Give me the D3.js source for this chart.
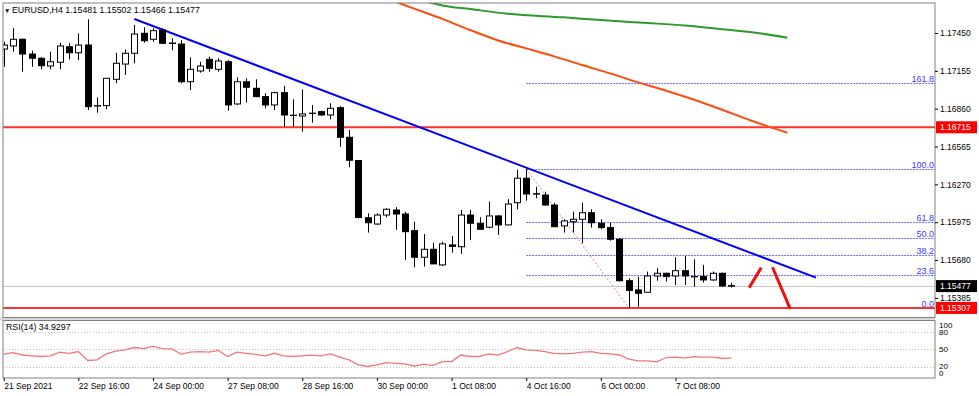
<!DOCTYPE html>
<html>
<head>
<meta charset="utf-8">
<script src="https://cdn.jsdelivr.net/npm/d3@7"></script>
<style>
  body { margin: 0; background: #fff; }
  svg text { font-family: "Liberation Sans", Arial, sans-serif; }
</style>
</head>
<body>
<div class="canvas"></div>
<script>
const width = 979;
const height = 396;

// H4 candles, 21 Sep 08:00 -> 8 Oct 08:00
const opens = [1.17325, 1.17349, 1.17401, 1.17286, 1.17253, 1.17193, 1.17222, 1.17343, 1.17296, 1.17356,
  1.16881, 1.16884, 1.17089, 1.17208, 1.17292, 1.17448, 1.17401, 1.17473, 1.17372, 1.17364,
  1.1707, 1.17154, 1.17245, 1.17167, 1.17226, 1.16897, 1.1707, 1.17019, 1.16954, 1.16889,
  1.16985, 1.16809, 1.16803, 1.16823, 1.16837, 1.16811, 1.16868, 1.16637, 1.16456, 1.1601,
  1.15961, 1.16031, 1.1607, 1.16039, 1.15909, 1.15702, 1.15764, 1.15642, 1.15798, 1.15784,
  1.16031, 1.15967, 1.15936, 1.16024, 1.15954, 1.16127, 1.16318, 1.16197, 1.16187, 1.16109,
  1.15946, 1.15979, 1.15998, 1.16049, 1.15967, 1.15933, 1.15842, 1.15519, 1.15447, 1.15429,
  1.15556, 1.15577, 1.15556, 1.15597, 1.15552, 1.15551, 1.15525, 1.15577, 1.15481];
const highs = [1.17382, 1.17487, 1.17407, 1.17312, 1.17261, 1.17304, 1.17374, 1.1737, 1.17448, 1.17557,
  1.16949, 1.17097, 1.17296, 1.17323, 1.17512, 1.17494, 1.17487, 1.17487, 1.17409, 1.17395,
  1.17261, 1.17226, 1.17265, 1.17253, 1.1724, 1.17105, 1.17097, 1.17089, 1.1698, 1.16992,
  1.17037, 1.16933, 1.17011, 1.16889, 1.16844, 1.16902, 1.16881, 1.16694, 1.1646, 1.16045,
  1.16045, 1.16084, 1.16092, 1.16057, 1.15979, 1.15883, 1.15816, 1.15823, 1.15868, 1.1607,
  1.1607, 1.16014, 1.16135, 1.1603, 1.16154, 1.16385, 1.1639, 1.16252, 1.16213, 1.16127,
  1.15998, 1.16057, 1.16127, 1.16076, 1.15998, 1.15971, 1.1585, 1.15538, 1.15551, 1.1559,
  1.15616, 1.15582, 1.15702, 1.15712, 1.15686, 1.15642, 1.1559, 1.15582, 1.15502];
const lows = [1.17187, 1.17304, 1.17148, 1.17187, 1.17167, 1.17167, 1.17167, 1.17245, 1.1724, 1.1685,
  1.16829, 1.16855, 1.17058, 1.17123, 1.17214, 1.17374, 1.17382, 1.17364, 1.17315, 1.17058,
  1.17006, 1.17141, 1.17148, 1.17148, 1.16844, 1.16889, 1.16907, 1.16949, 1.16863, 1.1685,
  1.1672, 1.1672, 1.16681, 1.16751, 1.16803, 1.16777, 1.16564, 1.16403, 1.16006, 1.15894,
  1.15954, 1.16014, 1.15915, 1.15681, 1.15624, 1.15629, 1.1565, 1.15634, 1.15738, 1.15728,
  1.15837, 1.1592, 1.15928, 1.15876, 1.1595, 1.16076, 1.16143, 1.16162, 1.16102, 1.15936,
  1.15894, 1.15894, 1.15811, 1.15933, 1.1592, 1.15831, 1.15512, 1.15307, 1.15317, 1.15429,
  1.15519, 1.15512, 1.15486, 1.15486, 1.15473, 1.15504, 1.15519, 1.1547, 1.15466];
const closes = [1.17356, 1.17401, 1.17286, 1.17253, 1.17195, 1.17226, 1.17349, 1.17296, 1.17356, 1.16876,
  1.16884, 1.17097, 1.17214, 1.17292, 1.17442, 1.1739, 1.17468, 1.1737, 1.17368, 1.1707,
  1.17167, 1.17193, 1.17175, 1.17232, 1.16889, 1.1707, 1.17027, 1.16954, 1.16889, 1.16985,
  1.16811, 1.16807, 1.16819, 1.16825, 1.16811, 1.16863, 1.16637, 1.16458, 1.16012, 1.15971,
  1.16031, 1.16076, 1.16039, 1.15901, 1.15702, 1.15764, 1.1565, 1.15806, 1.15786, 1.16031,
  1.15967, 1.1592, 1.16024, 1.15954, 1.16117, 1.16318, 1.16195, 1.16194, 1.16109, 1.1594,
  1.15985, 1.15998, 1.16049, 1.15971, 1.15933, 1.15842, 1.15519, 1.15443, 1.15421, 1.15556,
  1.15577, 1.15551, 1.15597, 1.15556, 1.15549, 1.15525, 1.15577, 1.15478, 1.15477];

const rsiValues = [41.5, 44, 40, 38.6, 37.4, 38.6, 45, 43, 46, 30.4,
  31.6, 42, 46.8, 49, 53, 51, 54.8, 51, 50.8, 41.5,
  45, 46, 45, 48, 37.4, 45, 43, 41, 38.6, 43,
  38.6, 37.4, 38.6, 39.8, 38.6, 42, 36.2, 31.6, 22.9, 20,
  22.9, 26.8, 25.6, 24.5, 20.5, 24, 21.7, 28.6, 28.6, 40,
  37.4, 37.4, 42, 39.8, 46, 53, 49, 48, 46, 43,
  42, 43, 45, 46, 43, 42, 40, 32.7, 29.8, 29.8,
  28, 35.6, 36.2, 34.5, 37, 36.2, 36.2, 33.9, 34.9297];

// moving averages (shifted forward), read at a few bars
const maFastBars = [41, 44, 47, 50, 53, 56, 59, 62, 65, 68, 71, 74, 77, 80, 82, 84];
const maFastValues = [1.1772, 1.1764, 1.1756, 1.17473, 1.17392, 1.1733, 1.17268, 1.172, 1.17135, 1.17065,
  1.17, 1.1693, 1.16852, 1.1677, 1.1672, 1.16673];
const maSlowBars = [45, 47, 50, 54, 60, 64, 69, 73, 77, 81, 84];
const maSlowValues = [1.177, 1.17665, 1.17637, 1.176, 1.17572, 1.17551, 1.17528, 1.17508, 1.1748, 1.17448, 1.17413];

const timeLabels = ["21 Sep 2021", "22 Sep 16:00", "24 Sep 00:00", "27 Sep 08:00", "28 Sep 16:00",
  "30 Sep 00:00", "1 Oct 08:00", "4 Oct 16:00", "6 Oct 00:00", "7 Oct 08:00"];
const timeLabelBars = [0, 8, 16, 24, 32, 40, 48, 56, 64, 72];

const priceTicks = [1.1745, 1.17155, 1.1686, 1.16565, 1.1627, 1.15975, 1.1568, 1.15385];
const rsiLevels = [80, 50, 20];
const rsiTickLabels = [100, 80, 50, 20, 0];

const resistanceLevel = 1.16715;
const supportLevel = 1.15307;
const bidPrice = 1.15477;

const fibHigh = 1.1639;
const fibLow = 1.15307;
const fibStartBar = 56;
const fibEndBar = 67;
const fibRatios = [0, 23.6, 38.2, 50, 61.8, 100, 161.8];

const trendBars = [14, 87.06];
const trendPrices = [1.17559, 1.15543];

const arrowUpBars = [79.9, 81.2];
const arrowUpPrices = [1.15465, 1.15621];
const arrowDownBars = [82.4, 84.3];
const arrowDownPrices = [1.15624, 1.15299];

// layout
const left = 3;
const right = 935;
const mainTop = 3;
const mainBottom = 317.5;
const rsiTop = 320.5;
const rsiBottom = 378;

const svg = d3
  .select(".canvas")
  .append("svg")
  .attr("width", width)
  .attr("height", height);

svg.append("rect").attr("width", width).attr("height", height).attr("fill", "#fff");

const x = d3.scaleLinear().domain([0, 100]).range([3.7, 936.7]);
const y = d3.scaleLinear().domain([1.15385, 1.1745]).range([297.9, 33]);
const yRsi = d3.scaleLinear().domain([0, 100]).range([rsiBottom, rsiTop]);

svg.append("clipPath").attr("id", "mainClip")
  .append("rect")
  .attr("x", left).attr("y", mainTop)
  .attr("width", right - left).attr("height", mainBottom - mainTop);

svg.append("clipPath").attr("id", "rsiClip")
  .append("rect")
  .attr("x", left).attr("y", rsiTop)
  .attr("width", right - left).attr("height", rsiBottom - rsiTop);

const main = svg.append("g").attr("clip-path", "url(#mainClip)");

// bid line
main.append("line")
  .attr("x1", left).attr("x2", right)
  .attr("y1", Math.round(y(bidPrice)) + 0.5).attr("y2", Math.round(y(bidPrice)) + 0.5)
  .attr("stroke", "#c8c8c8").attr("stroke-width", 1);

// fibonacci levels
const fibLevel = (r) => fibLow + (fibHigh - fibLow) * r / 100;

main.selectAll(".fib")
  .data(fibRatios)
  .enter()
  .append("line")
  .attr("class", "fib")
  .attr("x1", x(fibStartBar)).attr("x2", right)
  .attr("y1", (d) => Math.round(y(fibLevel(d))) + 0.5)
  .attr("y2", (d) => Math.round(y(fibLevel(d))) + 0.5)
  .attr("stroke", "#6b6bff").attr("stroke-width", 1.2)
  .attr("stroke-dasharray", "2,1");

main.selectAll(".fibText")
  .data(fibRatios)
  .enter()
  .append("text")
  .attr("class", "fibText")
  .text((d) => d.toFixed(1))
  .attr("x", right - 1)
  .attr("y", (d) => Math.round(y(fibLevel(d))) - 1.5)
  .attr("text-anchor", "end")
  .attr("fill", "#3c3cff")
  .attr("font-size", 9);

// fib trend (dotted red)
main.append("line")
  .attr("x1", x(fibStartBar)).attr("y1", y(fibHigh))
  .attr("x2", x(fibEndBar)).attr("y2", y(fibLow))
  .attr("stroke", "#ff7a7a").attr("stroke-width", 1)
  .attr("stroke-dasharray", "2,2");

// horizontal levels
[resistanceLevel, supportLevel].forEach((lvl) => {
  main.append("line")
    .attr("x1", left).attr("x2", right)
    .attr("y1", y(lvl)).attr("y2", y(lvl))
    .attr("stroke", "#ff3030").attr("stroke-width", 2);
});

// moving averages
const maLine = d3.line().curve(d3.curveMonotoneX).x((d) => x(d[0])).y((d) => y(d[1]));
main.append("path")
  .datum(d3.zip(maSlowBars, maSlowValues))
  .attr("d", maLine)
  .attr("fill", "none").attr("stroke", "#2e9a2e").attr("stroke-width", 2);
main.append("path")
  .datum(d3.zip(maFastBars, maFastValues))
  .attr("d", maLine)
  .attr("fill", "none").attr("stroke", "#ff4a10").attr("stroke-width", 2);

// trendline
main.append("line")
  .attr("x1", x(trendBars[0])).attr("y1", y(trendPrices[0]))
  .attr("x2", x(trendBars[1])).attr("y2", y(trendPrices[1]))
  .attr("stroke", "#0000ff").attr("stroke-width", 2);

// candles
const bars = d3.range(opens.length);
const barW = 6;

main.selectAll(".wick")
  .data(bars)
  .enter()
  .append("line")
  .attr("class", "wick")
  .attr("x1", (i) => Math.round(x(i)) + 0.5)
  .attr("x2", (i) => Math.round(x(i)) + 0.5)
  .attr("y1", (i) => y(highs[i]))
  .attr("y2", (i) => y(lows[i]))
  .attr("stroke", "#000").attr("stroke-width", 1);

main.selectAll(".body")
  .data(bars)
  .enter()
  .append("rect")
  .attr("class", "body")
  .attr("x", (i) => Math.round(x(i)) - barW / 2 + 0.5)
  .attr("y", (i) => y(Math.max(opens[i], closes[i])))
  .attr("width", barW)
  .attr("height", (i) => Math.max(0.01, Math.abs(y(opens[i]) - y(closes[i]))))
  .attr("fill", (i) => (closes[i] >= opens[i] ? "#fff" : "#000"))
  .attr("stroke", "#000").attr("stroke-width", 1);

// hand drawn arrows
[[arrowUpBars, arrowUpPrices], [arrowDownBars, arrowDownPrices]].forEach((a) => {
  main.append("line")
    .attr("x1", x(a[0][0])).attr("y1", y(a[1][0]))
    .attr("x2", x(a[0][1])).attr("y2", y(a[1][1]))
    .attr("stroke", "#ee1111").attr("stroke-width", 3);
});

// title
svg.append("text")
  .text("\u25BC")
  .attr("x", 4).attr("y", 12.5)
  .attr("font-size", 6.5).attr("fill", "#000");
svg.append("text")
  .text("EURUSD,H4  " + [opens, highs, lows, closes].map((a) => a[a.length - 1].toFixed(5)).join(" "))
  .attr("x", 12).attr("y", 13)
  .attr("font-size", 8.8).attr("fill", "#000");

// RSI panel
const rsiG = svg.append("g").attr("clip-path", "url(#rsiClip)");

rsiG.selectAll(".lvl")
  .data(rsiLevels)
  .enter()
  .append("line")
  .attr("x1", left).attr("x2", right)
  .attr("y1", (d) => Math.round(yRsi(d)) + 0.5)
  .attr("y2", (d) => Math.round(yRsi(d)) + 0.5)
  .attr("stroke", "#c0c0c0").attr("stroke-width", 1)
  .attr("stroke-dasharray", "1,2");

rsiG.append("path")
  .datum(rsiValues)
  .attr("d", d3.line().x((d, i) => x(i)).y((d) => yRsi(d)))
  .attr("fill", "none").attr("stroke", "#f27878").attr("stroke-width", 1.3);

svg.append("text")
  .text("RSI(14) " + rsiValues[rsiValues.length - 1].toFixed(4))
  .attr("x", 6).attr("y", 330)
  .attr("font-size", 8.8).attr("fill", "#000");

// frames
svg.append("rect")
  .attr("x", 0).attr("y", mainBottom).attr("width", right).attr("height", rsiTop - mainBottom)
  .attr("fill", "#d8d8d8");
svg.append("rect")
  .attr("x", left).attr("y", mainTop)
  .attr("width", right - left).attr("height", mainBottom - mainTop)
  .attr("fill", "none").attr("stroke", "#808080").attr("stroke-width", 1);
svg.append("rect")
  .attr("x", left).attr("y", rsiTop)
  .attr("width", right - left).attr("height", rsiBottom - rsiTop)
  .attr("fill", "none").attr("stroke", "#808080").attr("stroke-width", 1);

// price axis
const priceAxis = svg.append("g")
  .attr("transform", `translate(${right},0)`)
  .call(d3.axisRight(y).tickValues(priceTicks).tickSize(3).tickPadding(2).tickFormat(d3.format(".5f")));
priceAxis.select(".domain").remove();
priceAxis.selectAll("line").attr("stroke", "#000");
priceAxis.selectAll("text").attr("font-size", 8.5).attr("fill", "#000")
  .attr("font-family", "Liberation Sans, Arial, sans-serif");

// price labels with background
const tagData = [
  { p: resistanceLevel, bg: "#ff0000" },
  { p: supportLevel, bg: "#ff0000" },
  { p: bidPrice, bg: "#000000" }
];
tagData.forEach((t) => {
  svg.append("rect")
    .attr("x", right + 1).attr("y", y(t.p) - 6)
    .attr("width", 41).attr("height", 12)
    .attr("fill", t.bg);
  svg.append("text")
    .text(t.p.toFixed(5))
    .attr("x", right + 5).attr("y", y(t.p) + 3)
    .attr("font-size", 8.5).attr("fill", "#fff");
});

// rsi axis (top and bottom labels pushed inside the panel)
const rsiAxis = svg.append("g")
  .attr("transform", `translate(${right},0)`)
  .call(d3.axisRight(yRsi).tickValues(rsiTickLabels).tickSize(0).tickPadding(4));
rsiAxis.select(".domain").remove();
rsiAxis.selectAll(".tick")
  .attr("transform", (d) => `translate(0,${Math.min(373, Math.max(325, yRsi(d)))})`);
rsiAxis.selectAll("text").attr("font-size", 8).attr("fill", "#000")
  .attr("font-family", "Liberation Sans, Arial, sans-serif");

// time axis
const timeAxis = svg.append("g")
  .attr("transform", `translate(0,${rsiBottom})`)
  .call(d3.axisBottom(x).tickValues(timeLabelBars).tickSize(3).tickPadding(2)
    .tickFormat((d, i) => timeLabels[i]));
timeAxis.select(".domain").remove();
timeAxis.selectAll("line").attr("stroke", "#000");
timeAxis.selectAll("text").attr("font-size", 8.5).attr("fill", "#000")
  .attr("text-anchor", "start")
  .attr("font-family", "Liberation Sans, Arial, sans-serif");
</script>
</body>
</html>
